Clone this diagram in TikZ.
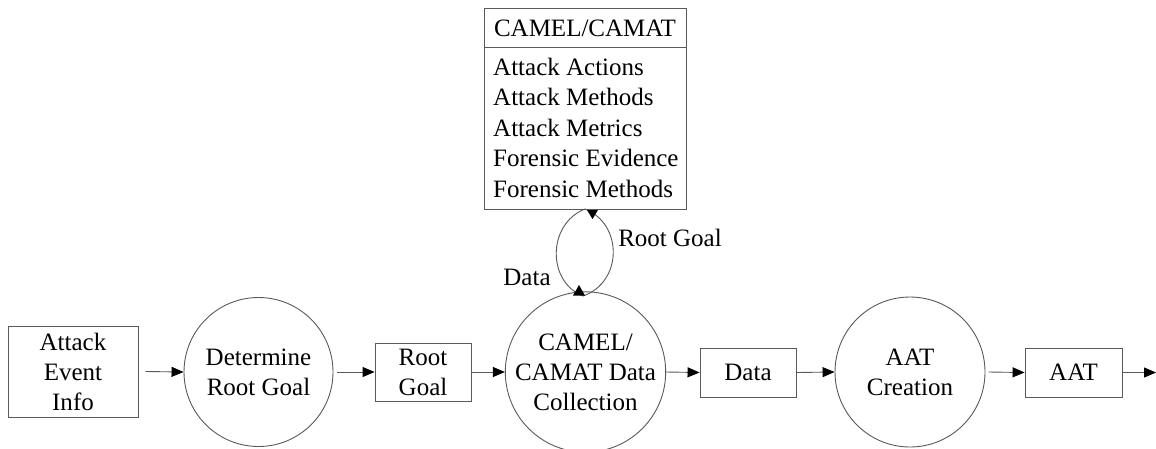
\documentclass[tikz,border=0pt]{standalone}
\usepackage{fontspec}
\setmainfont{Liberation Serif}
\usetikzlibrary{arrows.meta}
\begin{document}
\begin{tikzpicture}[x=1pt,y=-1pt,
  line/.style={draw=black!65,line width=0.9pt},
  flow/.style={line,-{Triangle[black,length=12pt,width=10pt]}},
  databox/.style={line,rectangle,inner sep=0pt,align=center},
  process/.style={line,circle,inner sep=0pt,align=center},
  lbl/.style={inner sep=0pt,font=\fontsize{25}{30}\selectfont},
  tip/.style={fill=black,draw=none},
  every node/.append style={font=\fontsize{25}{30}\selectfont,text=black}]
\useasboundingbox (0,0) rectangle (1156,448);

% main flow
\node[databox,minimum width=130pt,minimum height=91pt] (evt) at (73,371.5) {Attack\\Event\\Info};
\node[process,minimum size=149pt] (det) at (258.5,372) {Determine\\Root Goal};
\node[databox,minimum width=96pt,minimum height=58pt] (rg) at (423,372) {Root\\Goal};
\node[process,minimum size=154pt] (cam) at (585.5,372) {CAMEL/\\CAMAT Data\\Collection};
\node[databox,minimum width=96pt,minimum height=49pt] (data) at (748,372.5) {Data};
\node[process,minimum size=150pt] (aatc) at (910,372) {AAT\\Creation};
\node[databox,minimum width=97pt,minimum height=49pt] (aat) at (1073.5,372.5) {AAT};
\coordinate (out) at (1156,372.5);

\draw[flow] (evt.east) ++(7,0) -- (det.west);
\draw[flow] (det.east) ++(4,0) -- (rg.west);
\draw[flow] (rg.east) -- (cam.west);
\draw[flow] (cam.east) -- (data.west);
\draw[flow] (data.east) -- (aatc.west);
\draw[flow] (aatc.east) ++(3,0) -- (aat.west);
\draw[flow] (aat.east) -- (out);

% CAMEL/CAMAT store
\node[line,rectangle,minimum width=202pt,minimum height=201pt,inner sep=0pt] (db) at (585,108.5) {};
\draw[line] (db.west |- 0,47) coordinate (sepl) -- (db.east |- 0,47) coordinate (sepr);
\node[lbl,anchor=base] (dbtitle) at (585,36) {CAMEL/CAMAT};
\foreach \t [count=\i] in {Attack Actions,Attack Methods,Attack Metrics,Forensic Evidence,Forensic Methods}
  \node[lbl,anchor=base west] (item\i) at (493,{75.5+30.4*(\i-1)}) {\t};

% exchange loop between the collection process and the store
\coordinate (lt) at (585,209);
\coordinate (lb) at (583,296);
\draw[line] (lt) .. controls (547,224) and (547,282) .. (lb);
\draw[line] (lt) .. controls (623,224) and (623,282) .. (lb);
\fill[tip] (587,210) -- (598,210) -- (592.5,219) -- cycle;
\fill[tip] (573,295.5) -- (585,295.5) -- (579,285) -- cycle;
\node[lbl] (ldata) at (527,277) {Data};
\node[lbl] (lroot) at (670,238) {Root Goal};
\end{tikzpicture}
\end{document}
